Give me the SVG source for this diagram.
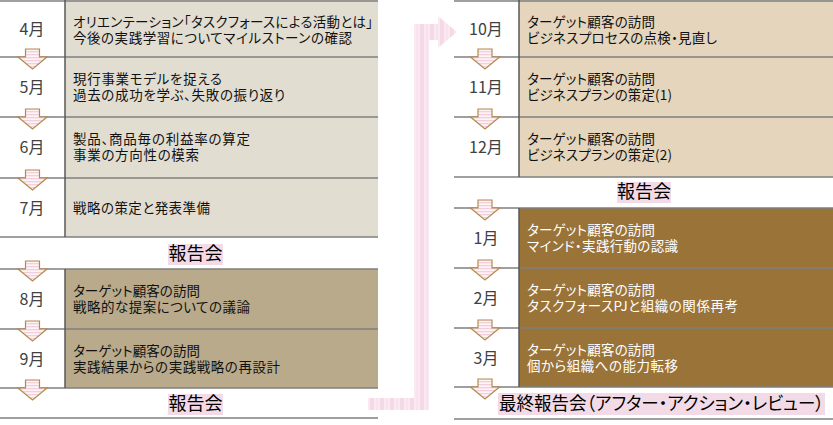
<svg xmlns="http://www.w3.org/2000/svg" width="833" height="425" viewBox="0 0 833 425">
<defs>
<style>
.lbl{font-family:"Noto Sans CJK JP",sans-serif;font-size:16px;fill:#404040;text-anchor:middle}
.txt{font-family:"Noto Sans CJK JP",sans-serif;font-size:13.5px;fill:#111;font-feature-settings:"palt"}
.w{fill:#fff}
.rep{font-family:"Noto Sans CJK JP",sans-serif;font-size:18px;fill:#000;font-feature-settings:"palt"}
.hl{stroke:#7f7f7f;stroke-width:1.5}
.vl{stroke:#595959;stroke-width:1.5}
.c1{fill:#e2ddd1}
.c2{fill:#b8aa8a}
.c3{fill:#e4d5bc}
.c4{fill:#9a7339}
.pk{fill:#f2dbe7}
.arr{fill:url(#hs);stroke:#b38b4f;stroke-width:1.2}
</style>
<pattern id="hs" width="4" height="3" patternUnits="userSpaceOnUse">
<rect width="4" height="3" fill="#fdf4f8"/>
<rect width="4" height="1.3" fill="#f3cfdd"/>
</pattern>
<pattern id="vs" width="10" height="4" patternUnits="userSpaceOnUse">
<rect width="10" height="4" fill="#fbe9f1"/>
<rect x="0" width="4" height="4" fill="#f5d9e6"/>
<rect x="6" width="2" height="4" fill="#f8e2ec"/>
</pattern>
<path id="da" d="M-7,-8H7V0H14.5L0,12L-14.5,0H-7Z"/>
</defs>

<g id="left-4">
<rect class="c1" x="65" y="0" width="313" height="57"/>
<text class="lbl" x="32" y="35">4月</text>
<text class="txt"><tspan x="73" y="26.5" textLength="300" lengthAdjust="spacing">オリエンテーション「タスクフォースによる活動とは」</tspan><tspan x="73" y="42.5" textLength="279" lengthAdjust="spacing">今後の実践学習についてマイルストーンの確認</tspan></text>
</g>
<g id="left-5">
<rect class="c1" x="65" y="57" width="313" height="60"/>
<text class="lbl" x="32" y="93">5月</text>
<text class="txt"><tspan x="73" y="84" textLength="149" lengthAdjust="spacing">現行事業モデルを捉える</tspan><tspan x="73" y="100" textLength="212" lengthAdjust="spacing">過去の成功を学ぶ、失敗の振り返り</tspan></text>
</g>
<g id="left-6">
<rect class="c1" x="65" y="117" width="313" height="61"/>
<text class="lbl" x="32" y="153">6月</text>
<text class="txt"><tspan x="73" y="144" textLength="177" lengthAdjust="spacing">製品、商品毎の利益率の算定</tspan><tspan x="73" y="160" textLength="126" lengthAdjust="spacing">事業の方向性の模索</tspan></text>
</g>
<g id="left-7">
<rect class="c1" x="65" y="178" width="313" height="59"/>
<text class="lbl" x="32" y="214">7月</text>
<text class="txt" x="73" y="213" textLength="137" lengthAdjust="spacing">戦略の策定と発表準備</text>
</g>
<g id="left-report">
<rect class="pk" x="168" y="244" width="55" height="21"/>
<text class="rep" x="195.5" y="260" text-anchor="middle">報告会</text>
</g>
<g id="left-8">
<rect class="c2" x="65" y="269" width="313" height="60"/>
<text class="lbl" x="32" y="305">8月</text>
<text class="txt"><tspan x="73" y="296" textLength="127" lengthAdjust="spacing">ターゲット顧客の訪問</tspan><tspan x="73" y="312" textLength="177" lengthAdjust="spacing">戦略的な提案についての議論</tspan></text>
</g>
<g id="left-9">
<rect class="c2" x="65" y="329" width="313" height="59"/>
<text class="lbl" x="32" y="365">9月</text>
<text class="txt"><tspan x="73" y="356" textLength="127" lengthAdjust="spacing">ターゲット顧客の訪問</tspan><tspan x="73" y="372" textLength="207" lengthAdjust="spacing">実践結果からの実践戦略の再設計</tspan></text>
</g>
<g id="left-report2">
<rect class="pk" x="168" y="394" width="55" height="21"/>
<text class="rep" x="195.5" y="410" text-anchor="middle">報告会</text>
</g>

<g id="right-10">
<rect class="c3" x="519" y="0" width="314" height="57"/>
<text class="lbl" x="486" y="35">10月</text>
<text class="txt"><tspan x="527" y="26.5" textLength="128" lengthAdjust="spacing">ターゲット顧客の訪問</tspan><tspan x="527" y="42.5" textLength="190" lengthAdjust="spacing">ビジネスプロセスの点検・見直し</tspan></text>
</g>
<g id="right-11">
<rect class="c3" x="519" y="57" width="314" height="60"/>
<text class="lbl" x="486" y="93">11月</text>
<text class="txt"><tspan x="527" y="84" textLength="128" lengthAdjust="spacing">ターゲット顧客の訪問</tspan><tspan x="527" y="100" textLength="145" lengthAdjust="spacing">ビジネスプランの策定(1)</tspan></text>
</g>
<g id="right-12">
<rect class="c3" x="519" y="117" width="314" height="60"/>
<text class="lbl" x="486" y="153">12月</text>
<text class="txt"><tspan x="527" y="144" textLength="128" lengthAdjust="spacing">ターゲット顧客の訪問</tspan><tspan x="527" y="160" textLength="145" lengthAdjust="spacing">ビジネスプランの策定(2)</tspan></text>
</g>
<g id="right-report">
<rect class="pk" x="617" y="182" width="54" height="21"/>
<text class="rep" x="644" y="198" text-anchor="middle">報告会</text>
</g>
<g id="right-1">
<rect class="c4" x="519" y="208" width="314" height="60"/>
<text class="lbl" x="486" y="244">1月</text>
<text class="txt w"><tspan x="527" y="235" textLength="128" lengthAdjust="spacing">ターゲット顧客の訪問</tspan><tspan x="527" y="251" textLength="151" lengthAdjust="spacing">マインド・実践行動の認識</tspan></text>
</g>
<g id="right-2">
<rect class="c4" x="519" y="268" width="314" height="60"/>
<text class="lbl" x="486" y="304">2月</text>
<text class="txt w"><tspan x="527" y="295" textLength="128" lengthAdjust="spacing">ターゲット顧客の訪問</tspan><tspan x="527" y="311" textLength="211" lengthAdjust="spacing">タスクフォースPJと組織の関係再考</tspan></text>
</g>
<g id="right-3">
<rect class="c4" x="519" y="328" width="314" height="59"/>
<text class="lbl" x="486" y="364">3月</text>
<text class="txt w"><tspan x="527" y="355" textLength="128" lengthAdjust="spacing">ターゲット顧客の訪問</tspan><tspan x="527" y="371" textLength="151" lengthAdjust="spacing">個から組織への能力転移</tspan></text>
</g>
<g id="right-final">
<rect class="pk" x="498" y="393" width="327" height="22"/>
<text class="rep" x="499" y="410" textLength="325" lengthAdjust="spacingAndGlyphs">最終報告会（アフター・アクション・レビュー）</text>
</g>

<g id="rules">
<g class="hl">
<line x1="0" y1="1" x2="378" y2="1"/>
<line x1="0" y1="57" x2="378" y2="57"/>
<line x1="0" y1="117" x2="378" y2="117"/>
<line x1="0" y1="178" x2="378" y2="178"/>
<line x1="0" y1="237" x2="378" y2="237"/>
<line x1="0" y1="269" x2="378" y2="269"/>
<line x1="0" y1="329" x2="378" y2="329"/>
<line x1="0" y1="388" x2="378" y2="388"/>
<line x1="0" y1="418" x2="378" y2="418"/>
<line x1="454" y1="1" x2="833" y2="1"/>
<line x1="454" y1="57" x2="833" y2="57"/>
<line x1="454" y1="117" x2="833" y2="117"/>
<line x1="454" y1="177" x2="833" y2="177"/>
<line x1="454" y1="208" x2="833" y2="208"/>
<line x1="454" y1="268" x2="833" y2="268"/>
<line x1="454" y1="328" x2="833" y2="328"/>
<line x1="454" y1="387" x2="833" y2="387"/>
<line x1="454" y1="419" x2="833" y2="419"/>
</g>
<g class="vl">
<line x1="65" y1="0" x2="65" y2="237"/>
<line x1="65" y1="269" x2="65" y2="388"/>
<line x1="519" y1="0" x2="519" y2="177"/>
<line x1="519" y1="208" x2="519" y2="387"/>
</g>
</g>

<g id="connectors">
<path d="M368,398H414V24H438V16L457,32L438,48V40H429V410H368Z" fill="url(#vs)"/>
<g class="arr">
<use href="#da" x="32.5" y="57"/>
<use href="#da" x="32.5" y="117"/>
<use href="#da" x="32.5" y="178"/>
<use href="#da" x="32.5" y="269"/>
<use href="#da" x="32.5" y="329"/>
<use href="#da" x="32.5" y="388"/>
<use href="#da" x="485" y="57"/>
<use href="#da" x="485" y="117"/>
<use href="#da" x="485" y="208"/>
<use href="#da" x="485" y="268"/>
<use href="#da" x="485" y="328"/>
<use href="#da" x="485" y="387"/>
</g>
</g>
</svg>
